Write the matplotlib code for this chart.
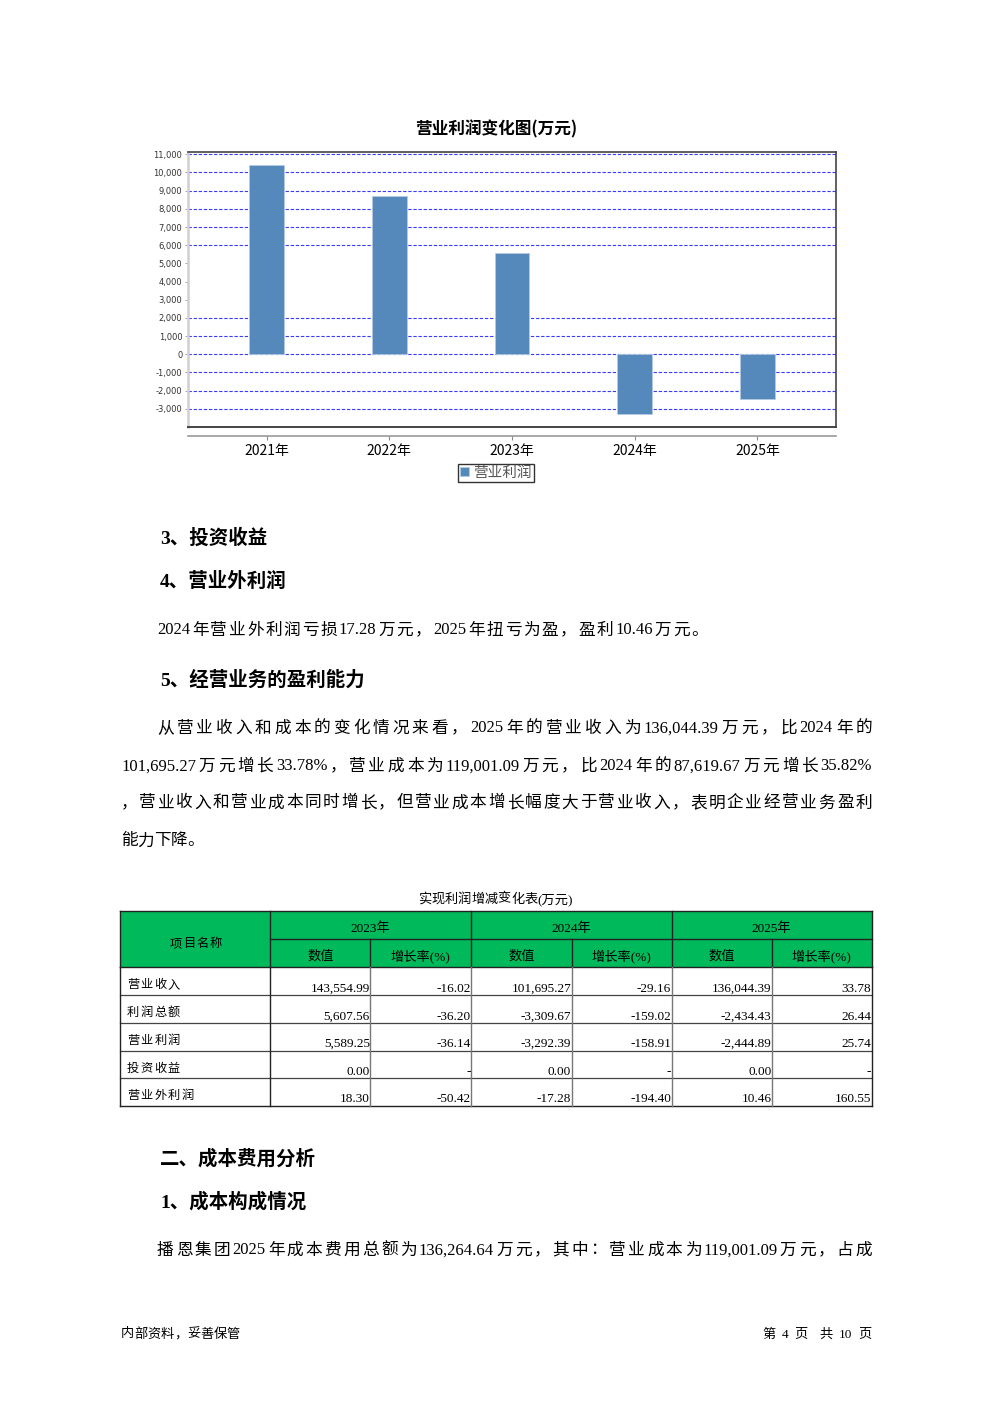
import re
import matplotlib
matplotlib.use("Agg")
import matplotlib.pyplot as plt
from matplotlib.patches import Rectangle

W, H = 992, 1403
CJK = ["Noto Sans CJK SC", "DejaVu Sans"]
MIX = ["Liberation Serif", "Noto Sans CJK SC", "DejaVu Sans"]
plt.rcParams["font.family"] = CJK

# ─── Données du graphique ─────────────────────────────────────────────────────
CHART_TITLE = "营业利润变化图(万元)"
SERIES_NAME = "营业利润"
YEARS = ["2021年", "2022年", "2023年", "2024年", "2025年"]
OP_PROFIT = [10410, 8710, 5589.25, -3292.39, -2444.89]
Y_TICKS = list(range(-3000, 11001, 1000))
GRID_VALUES = [11000, 10000, 9000, 8000, 7000, 6000, 2000, 1000, 0, -1000, -2000, -3000]

# ─── Données du tableau ───────────────────────────────────────────────────────
TABLE_TITLE = "实现利润增减变化表(万元)"
NAME_HEAD = "项目名称"
TABLE_YEARS = ["2023年", "2024年", "2025年"]
SUB_HEAD = ["数值", "增长率(%)"]
ROW_NAMES = ["营业收入", "利润总额", "营业利润", "投资收益", "营业外利润"]
VAL_2023 = ["143,554.99", "5,607.56", "5,589.25", "0.00", "18.30"]
GR_2023 = ["-16.02", "-36.20", "-36.14", "-", "-50.42"]
VAL_2024 = ["101,695.27", "-3,309.67", "-3,292.39", "0.00", "-17.28"]
GR_2024 = ["-29.16", "-159.02", "-158.91", "-", "-194.40"]
VAL_2025 = ["136,044.39", "-2,434.43", "-2,444.89", "0.00", "10.46"]
GR_2025 = ["33.78", "26.44", "25.74", "-", "160.55"]

# ─── Texte de la page ─────────────────────────────────────────────────────────
H_INVEST = "3、投资收益"
H_NONOP = "4、营业外利润"
T_NONOP = "2024年营业外利润亏损17.28万元，2025年扭亏为盈，盈利10.46万元。"
H_BUSINESS = "5、经营业务的盈利能力"
PARA = ["从营业收入和成本的变化情况来看，2025年的营业收入为136,044.39万元，比2024年的",
        "101,695.27万元增长33.78%，营业成本为119,001.09万元，比2024年的87,619.67万元增长35.82%",
        "，营业收入和营业成本同时增长，但营业成本增长幅度大于营业收入，表明企业经营业务盈利",
        "能力下降。"]
H_COST = "二、成本费用分析"
H_COST1 = "1、成本构成情况"
T_COST = "播恩集团2025年成本费用总额为136,264.64万元，其中：营业成本为119,001.09万元，占成"
FOOT_L = "内部资料，妥善保管"
FOOT_R = ["第", "4", "页", "", "共", "10", "页"]

fig = plt.figure(figsize=(W / 100, H / 100), dpi=100)
page = fig.add_axes([0, 0, 1, 1])
page.set_xlim(0, W)
page.set_ylim(H, 0)
page.axis("off")


def txt(x, y, s, size=12, weight="normal", family=MIX, ha="left", va="center", color="black"):
    dy = 1.5 if va == "center" else 0
    return page.text(x, y + dy, s, fontsize=size, fontweight=weight, family=family,
                     ha=ha, va=va, color=color)


def justified(x0, x1, y, s, size=12, weight="normal", family=MIX, tokens=None):
    """Place chaque caractère (ou bloc ASCII) pour remplir la largeur [x0, x1]."""
    if tokens is None:
        tokens = re.findall(r"[0-9A-Za-z.,%]+|.", s)
    r = fig.canvas.get_renderer()
    texts = [txt(0, y, t, size=size, weight=weight, family=family) for t in tokens]
    widths = [t.get_window_extent(r).width if t.get_text() else 0 for t in texts]
    gap = (x1 - x0 - sum(widths)) / max(len(tokens) - 1, 1)
    x = x0
    for t, w in zip(texts, widths):
        t.set_x(x)
        x += w + gap


# ─── Graphique ────────────────────────────────────────────────────────────────
L, R, T, B = 188, 836, 152.3, 427
ax = fig.add_axes([L / W, 1 - B / H, (R - L) / W, (B - T) / H])
xs = list(range(len(YEARS)))
bars = ax.bar(xs, OP_PROFIT, width=0.285, color="#5588bb", edgecolor="#b5cbe3",
              linewidth=0.6, zorder=3, label=SERIES_NAME)
for g in GRID_VALUES:
    ax.axhline(g, color="#3a3aff", lw=0.8, ls=(0, (3, 1.6)), zorder=1)
ax.set_xlim(-0.64, len(YEARS) - 1 + 0.64)
ax.set_ylim(-4000, 11110)
ax.set_yticks(Y_TICKS)
ax.set_yticklabels([f"{v:,}" for v in Y_TICKS], fontsize=6, family="DejaVu Sans", color="#333")
ax.tick_params(axis="y", length=2, width=0.6, color="#999", pad=2)
ax.set_xticks(xs)
ax.set_xticklabels(YEARS, fontsize=8, color="#333")
ax.tick_params(axis="x", length=3, width=0.8, color="#888", pad=3)
for s in ("top", "right"):
    ax.spines[s].set_color("#444")
    ax.spines[s].set_linewidth(1.2)
ax.spines["left"].set_color("#d0d0d0")
ax.spines["left"].set_linewidth(1.8)
ax.spines["bottom"].set_position(("outward", 6.5))
ax.spines["bottom"].set_color("#999")
ax.spines["bottom"].set_linewidth(1.2)
ax.axhline(-4000, color="#444", lw=1.4, clip_on=False, zorder=4)
txt(496, 128, CHART_TITLE, size=12, weight="bold", family=CJK, ha="center")
leg = fig.legend(handles=[bars], loc="center", bbox_to_anchor=(496 / W, 1 - 473 / H),
                 fontsize=10.5, frameon=True, fancybox=False, edgecolor="black",
                 handlelength=0.6, handleheight=0.6, handletextpad=0.3,
                 borderpad=0.15, borderaxespad=0)
leg.get_frame().set_linewidth(1.0)
for t in leg.get_texts():
    t.set_color("#555")

# ─── Texte ────────────────────────────────────────────────────────────────────
txt(160, 537, H_INVEST, size=14, weight="bold")
txt(160, 580, H_NONOP, size=14, weight="bold")
justified(157, 708, 629, T_NONOP)
txt(160, 679, H_BUSINESS, size=14, weight="bold")
justified(157, 872, 727, PARA[0])
justified(121, 872, 765, PARA[1])
justified(121, 872, 802, PARA[2])
justified(121, 204, 840, PARA[3])

# ─── Tableau ──────────────────────────────────────────────────────────────────
justified(418, 573, 898, TABLE_TITLE, size=9.5, tokens=["实", "现", "利", "润", "增", "减", "变", "化", "表", "(万元)"])
COLS = [120, 270.3, 370.3, 471, 571.7, 671.7, 772, 871.7]
ROWS = [911, 939.3, 967.3, 995.3, 1023, 1050.7, 1078.3, 1105.7]
page.add_patch(Rectangle((COLS[0], ROWS[0]), COLS[-1] - COLS[0], ROWS[2] - ROWS[0],
                         facecolor="#00b95a", edgecolor="none", zorder=1))
kw = dict(color="#222", lw=1.0, zorder=3)
for y in (ROWS[0], ROWS[2], ROWS[-1]):
    page.plot([COLS[0], COLS[-1]], [y, y], **kw)
page.plot([COLS[1], COLS[-1]], [ROWS[1], ROWS[1]], **kw)
for y in ROWS[3:-1]:
    page.plot([COLS[0], COLS[-1]], [y, y], color="#444", lw=0.9, zorder=3)
for i, x in enumerate(COLS):
    top = ROWS[1] if i in (2, 4, 6) else ROWS[0]
    page.plot([x, x], [top, ROWS[2]], **kw)
    page.plot([x, x], [ROWS[2], ROWS[-1]], color="#222" if i in (0, 1, 7) else "#777",
              lw=1.0, zorder=3)

justified(170, 222, 942, NAME_HEAD, size=8.8, family=CJK)
for k, yr in enumerate(TABLE_YEARS):
    c0 = COLS[1 + 2 * k]
    c2 = COLS[3 + 2 * k]
    txt((c0 + c2) / 2, 927, yr, size=9.5, ha="center")
    for j, sub in enumerate(SUB_HEAD):
        a, b = COLS[1 + 2 * k + j], COLS[2 + 2 * k + j]
        txt((a + b) / 2, 955, sub, size=9.5, ha="center")

columns = [VAL_2023, GR_2023, VAL_2024, GR_2024, VAL_2025, GR_2025]
for i, name in enumerate(ROW_NAMES):
    y0, y1 = ROWS[2 + i], ROWS[3 + i]
    justified(127, 127 + 13.3 * len(name), y0 + 16, name, size=8.8, family=CJK)
    for j, col in enumerate(columns):
        txt(COLS[2 + j] - 0.5, y1 - 3.5, col[i], size=9.5, ha="right", va="baseline")

# ─── Suite + pied de page ─────────────────────────────────────────────────────
txt(160, 1157, H_COST, size=14, weight="bold")
txt(160, 1200, H_COST1, size=14, weight="bold")
justified(157, 872, 1249, T_COST)
justified(121, 240, 1333, FOOT_L, size=9.5)
justified(762, 872, 1333, "", size=9.5, tokens=FOOT_R)

fig.savefig("out.png", dpi=100)
